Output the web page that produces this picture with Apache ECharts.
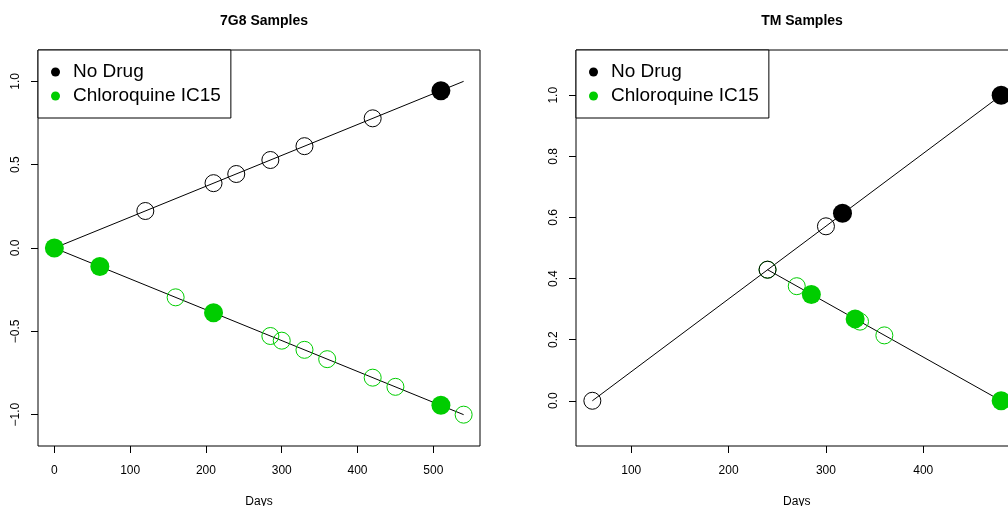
<!DOCTYPE html>
<html>
<head>
<meta charset="utf-8">
<script src="https://cdn.jsdelivr.net/npm/echarts@6/dist/echarts.min.js"></script>
<style>
  html, body { margin: 0; padding: 0; background: #fff; overflow: hidden; }
  #chart { width: 1008px; height: 506px; }
</style>
</head>
<body>
<div id="chart"></div>
<script>
// 7G8 panel
const g7NoDrugFit = [[0, 0], [540, 1.0]]
const g7DrugFit = [[0, 0], [540, -1.0]]
const g7NoDrugOpen = [[120, 0.222], [210, 0.389], [240, 0.444], [285, 0.528], [330, 0.611], [420, 0.778]]
const g7NoDrugSolid = [[510, 0.944]]
const g7DrugOpen = [[160, -0.296], [285, -0.528], [300, -0.556], [330, -0.611], [360, -0.667], [420, -0.778], [450, -0.833], [540, -1.0]]
const g7DrugSolid = [[0, 0], [60, -0.111], [210, -0.389], [510, -0.944]]

// TM panel
const tmNoDrugFit = [[60, 0], [480, 1.0]]
const tmDrugFit = [[240, 0.429], [480, 0]]
const tmNoDrugOpen = [[60, 0], [240, 0.429], [300, 0.571]]
const tmNoDrugSolid = [[317, 0.614], [480, 1.0]]
const tmDrugOpen = [[240, 0.429], [270, 0.375], [335, 0.259], [360, 0.214]]
const tmDrugSolid = [[285, 0.348], [330, 0.268], [480, 0]]

// ticks
const g7XTicks = [0, 100, 200, 300, 400, 500]
const g7YTicks = [-1.0, -0.5, 0.0, 0.5, 1.0]
const tmXTicks = [100, 200, 300, 400]
const tmYTicks = [0.0, 0.2, 0.4, 0.6, 0.8, 1.0]

const titles = ['7G8 Samples', 'TM Samples']
const legendNames = ['No Drug', 'Chloroquine IC15']

const BLACK = '#000000'
const GREEN = '#00CD00'
const FONT = '"Liberation Sans", Arial, Helvetica, sans-serif'

const chart = echarts.init(document.getElementById('chart'))

const fmtY = v => v.toFixed(1).replace('-', '\u2212')

const xAxis = (min, max, ticks, grid) => ({
  type: 'value', gridIndex: grid, min: min, max: max,
  name: 'Days', nameLocation: 'middle', nameGap: 50,
  nameTextStyle: { color: BLACK, fontSize: 12, fontFamily: FONT },
  axisLine: { show: false, onZero: false },
  splitLine: { show: false },
  axisTick: { show: true, length: 7, lineStyle: { color: BLACK }, customValues: ticks },
  axisLabel: { color: BLACK, fontSize: 12, fontFamily: FONT, margin: 19, customValues: ticks }
})

const yAxis = (min, max, ticks, grid) => ({
  type: 'value', gridIndex: grid, min: min, max: max,
  axisLine: { show: false, onZero: false },
  splitLine: { show: false },
  axisTick: { show: true, length: 7, lineStyle: { color: BLACK }, customValues: ticks },
  axisLabel: { color: BLACK, fontSize: 12, fontFamily: FONT, margin: 16, rotate: 90,
    customValues: ticks, formatter: fmtY }
})

const fitLine = (data, grid) => ({
  type: 'line', xAxisIndex: grid, yAxisIndex: grid, data: data,
  symbol: 'none', silent: true, z: 2,
  lineStyle: { color: BLACK, width: 1 }
})

const openPts = (name, data, color, grid) => ({
  type: 'scatter', name: name, xAxisIndex: grid, yAxisIndex: grid, data: data,
  symbol: 'circle', symbolSize: 17, z: 3,
  itemStyle: { color: 'transparent', borderColor: color, borderWidth: 1, opacity: 1 }
})

const solidPts = (name, data, color, grid) => ({
  type: 'scatter', name: name, xAxisIndex: grid, yAxisIndex: grid, data: data,
  symbol: 'circle', symbolSize: 19, z: 4,
  itemStyle: { color: color, borderWidth: 0, opacity: 1 }
})

const legendBox = (left) => ({
  data: legendNames, left: left, top: 50, orient: 'vertical',
  icon: 'circle', itemWidth: 9, itemHeight: 9, itemGap: 0,
  padding: [10, 10, 10, 13],
  borderColor: BLACK, borderWidth: 1, backgroundColor: '#fff',
  selectedMode: false,
  itemStyle: { borderWidth: 0, opacity: 1 },
  textStyle: { color: BLACK, fontSize: 19, fontFamily: FONT, lineHeight: 24, padding: [0, 0, 0, 8] }
})

const panelGrid = (left, width) => ({
  left: left, top: 50, width: width, height: 396,
  outerBoundsMode: 'none', containLabel: false,
  show: true, borderColor: BLACK, borderWidth: 1, backgroundColor: 'transparent'
})

const option = {
  animation: false,
  backgroundColor: '#fff',
  title: [
    { text: titles[0], left: 259, top: 9, textAlign: 'center',
      textStyle: { fontSize: 14, fontWeight: 'bold', fontFamily: FONT, color: BLACK } },
    { text: titles[1], left: 797, top: 9, textAlign: 'center',
      textStyle: { fontSize: 14, fontWeight: 'bold', fontFamily: FONT, color: BLACK } }
  ],
  legend: [legendBox(38), legendBox(576)],
  grid: [panelGrid(38, 442), panelGrid(576, 441.5)],
  xAxis: [
    xAxis(-21.6, 561.6, g7XTicks, 0),
    xAxis(43.2, 496.8, tmXTicks, 1)
  ],
  yAxis: [
    yAxis(-1.188, 1.188, g7YTicks, 0),
    yAxis(-0.148, 1.148, tmYTicks, 1)
  ],
  series: [
    fitLine(g7NoDrugFit, 0),
    fitLine(g7DrugFit, 0),
    openPts('No Drug open', g7NoDrugOpen, BLACK, 0),
    openPts('Chloroquine open', g7DrugOpen, GREEN, 0),
    solidPts('No Drug', g7NoDrugSolid, BLACK, 0),
    solidPts('Chloroquine IC15', g7DrugSolid, GREEN, 0),

    fitLine(tmNoDrugFit, 1),
    fitLine(tmDrugFit, 1),
    openPts('Chloroquine open', tmDrugOpen, GREEN, 1),
    openPts('No Drug open', tmNoDrugOpen, BLACK, 1),
    solidPts('No Drug', tmNoDrugSolid, BLACK, 1),
    solidPts('Chloroquine IC15', tmDrugSolid, GREEN, 1)
  ]
}

chart.setOption(option)
</script>
</body>
</html>
